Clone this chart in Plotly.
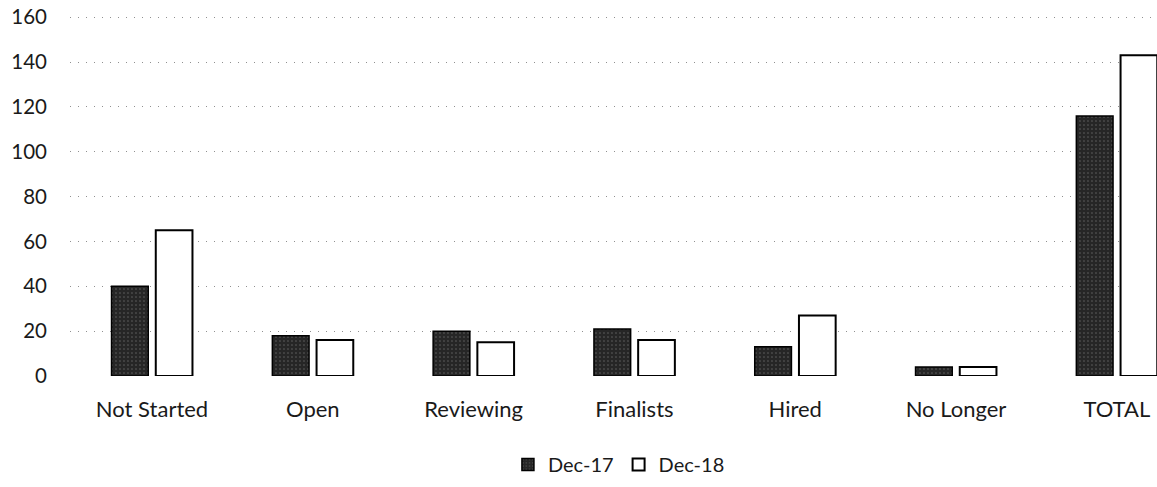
import plotly.graph_objects as go

categories = ["Not Started", "Open", "Reviewing", "Finalists", "Hired", "No Longer", "TOTAL"]
dec17 = [40, 18, 20, 21, 13, 4, 116]
dec18 = [65, 16, 15, 16, 27, 4, 143]
y_ticks = [0, 20, 40, 60, 80, 100, 120, 140, 160]

FONT = "Lato, Carlito, 'Open Sans', sans-serif"

fig = go.Figure()
fig.add_trace(go.Bar(
    name="Dec-17", x=categories, y=dec17,
    marker=dict(color="#262626", line=dict(color="#000000", width=1.5),
                pattern=dict(shape=".", fgcolor="#a0a0a0", size=4, solidity=0.12)),
))
fig.add_trace(go.Bar(
    name="Dec-18", x=categories, y=dec18,
    marker=dict(color="#ffffff", line=dict(color="#000000", width=2)),
))

fig.update_layout(
    width=1157, height=487,
    margin=dict(l=70, r=0, t=15, b=111, autoexpand=False),
    barmode="group", bargap=0.45, bargroupgap=0.17,
    plot_bgcolor="white", paper_bgcolor="white",
    font=dict(family=FONT, size=20, color="#1a1a1a"),
    showlegend=True,
    legend=dict(orientation="h", x=0.505, xanchor="center", y=-0.245, yanchor="middle",
                font=dict(size=20, color="#1a1a1a"), itemwidth=30, traceorder="normal"),
    xaxis=dict(range=[-0.51, 6.25], showgrid=False, showline=False, zeroline=False,
               ticks="", ticklabelstandoff=18, tickfont=dict(size=22), automargin=False),
    yaxis=dict(range=[0, 161], tickvals=y_ticks, showgrid=True,
               gridcolor="#909090", griddash="1px,7px", gridwidth=1,
               zeroline=False, showline=False, ticks="", ticklabelstandoff=22,
               tickfont=dict(size=20.5), automargin=False),
)

fig.write_html(
    "out.html",
    config={"displayModeBar": False},
    post_script="document.body.style.margin='0';document.body.style.padding='0';",
)
